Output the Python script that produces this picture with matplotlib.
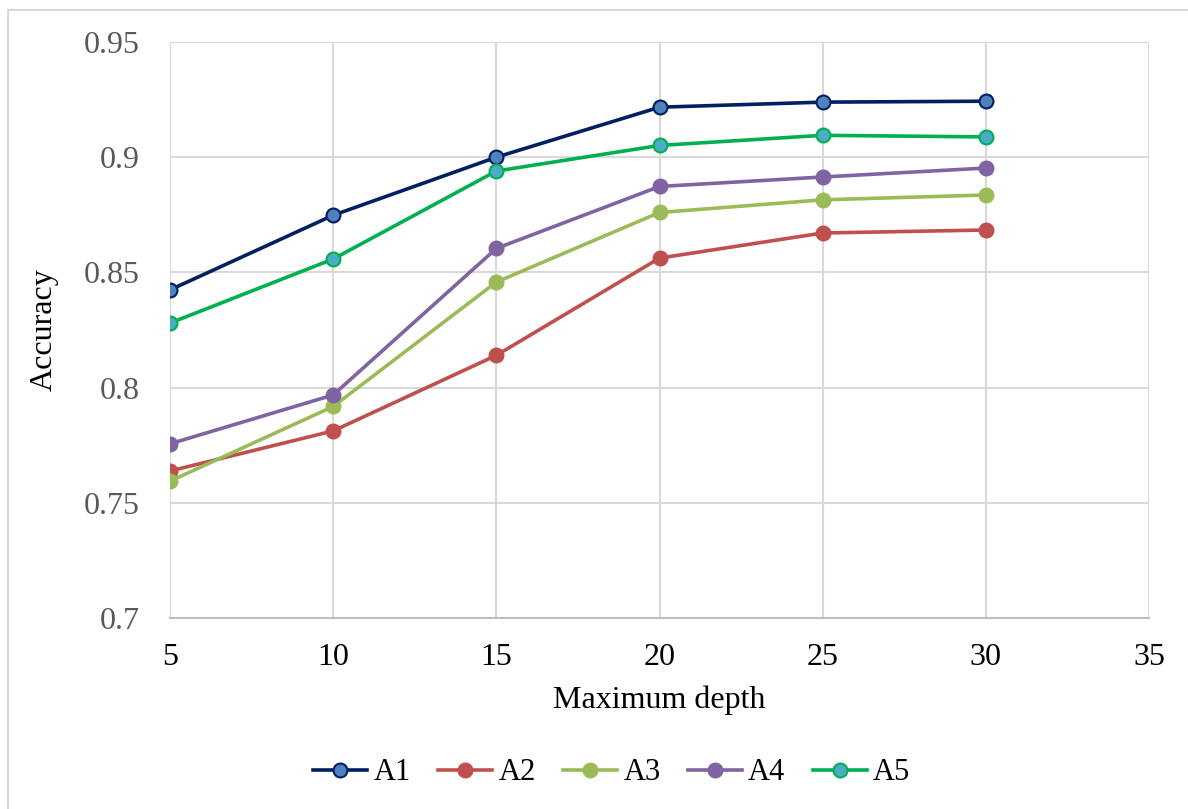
import numpy as np
import matplotlib.pyplot as plt
from matplotlib.lines import Line2D

plt.rcParams['font.family'] = ['Liberation Serif', 'DejaVu Serif']

depth = [5, 10, 15, 20, 25, 30]
a1 = [0.8424, 0.8748, 0.9000, 0.9217, 0.9239, 0.9243]
a2 = [0.7638, 0.7812, 0.8140, 0.8562, 0.8671, 0.8684]
a3 = [0.7594, 0.7918, 0.8458, 0.8760, 0.8815, 0.8836]
a4 = [0.7756, 0.7968, 0.8604, 0.8873, 0.8914, 0.8953]
a5 = [0.8280, 0.8558, 0.8940, 0.9051, 0.9095, 0.9088]

series = [
    ('A1', a1, '#002060', '#4F81BD', '#002060'),
    ('A2', a2, '#C0504D', '#C0504D', '#C0504D'),
    ('A3', a3, '#9BBB59', '#9BBB59', '#9BBB59'),
    ('A4', a4, '#8064A2', '#8064A2', '#8064A2'),
    ('A5', a5, '#00B050', '#4BACC6', '#00B050'),
]

fig = plt.figure(figsize=(11.88, 8.09), dpi=100)
ax = fig.add_axes([170/1188, 1-618/809, (1149-170)/1188, (618-42)/809])

# outer frame (top and left edges visible)
fig.add_artist(Line2D([8/1188, 1.0], [1-10/809, 1-10/809], transform=fig.transFigure, color='#d9d9d9', lw=1.5))
fig.add_artist(Line2D([8/1188, 8/1188], [1-10/809, 0.0], transform=fig.transFigure, color='#d9d9d9', lw=1.5))

for name, vals, lc, mfc, mec in series:
    ax.plot(depth, vals, color=lc, lw=2.6, marker='o', ms=10, mfc=mfc, mec=mec,
            mew=1.5, label=name, zorder=3)

ax.set_xlim(5, 35)
ax.set_ylim(0.7, 0.95)
ax.set_xticks([5, 10, 15, 20, 25, 30, 35])
ax.set_yticks([0.7, 0.75, 0.8, 0.85, 0.9, 0.95])
ax.set_yticklabels(['0.7', '0.75', '0.8', '0.85', '0.9', '0.95'])
ax.grid(True, color='#d9d9d9', lw=1.5)
ax.set_axisbelow(True)
for s in ['top', 'right', 'left']:
    ax.spines[s].set_visible(False)
ax.spines['bottom'].set_color('#bfbfbf')
ax.spines['bottom'].set_linewidth(1.5)
ax.tick_params(axis='both', length=0, labelsize=23)
ax.tick_params(axis='y', colors='#595959', pad=22)
ax.tick_params(axis='x', colors='black', pad=18)

ax.set_xlabel('Maximum depth', fontsize=23, labelpad=10)
ax.set_ylabel('Accuracy', fontsize=23, labelpad=18)

leg = fig.legend(loc='center', bbox_to_anchor=(0.515, 1-773/809), ncol=5, frameon=False,
                 fontsize=22, handlelength=1.77, handletextpad=0.2, columnspacing=0.9)

fig.savefig('out.png', dpi=100)
